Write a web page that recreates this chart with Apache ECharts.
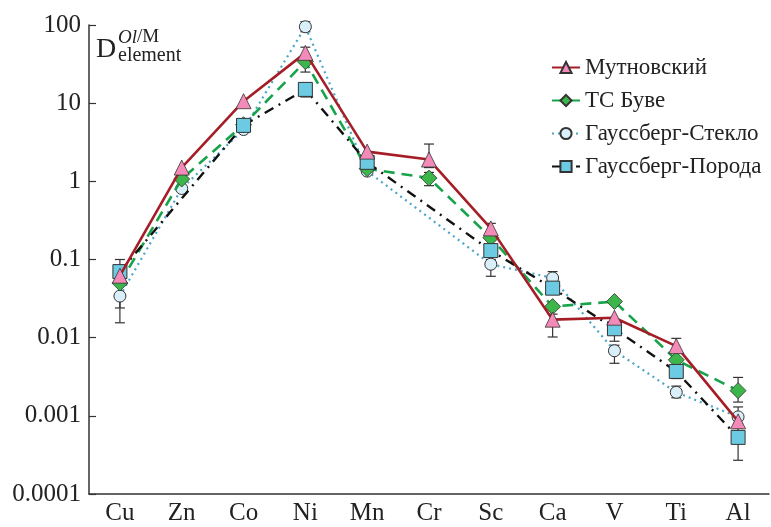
<!DOCTYPE html>
<html>
<head>
<meta charset="utf-8">
<script src="https://cdn.jsdelivr.net/npm/echarts@6/dist/echarts.min.js"></script>
<style>
html,body{margin:0;padding:0;background:#fff;}
#chart{width:771px;height:527px;}
</style>
</head>
<body>
<div id="chart"></div>
<script>
// ---- data ----
const categories = ['Cu','Zn','Co','Ni','Mn','Cr','Sc','Ca','V','Ti','Al'];
const seriesNames = ['Мутновский','ТС Буве','Гауссберг-Стекло','Гауссберг-Порода'];
const mutnovsky = [0.062, 1.5, 10.6, 44, 2.4, 1.9, 0.25, 0.017, 0.018, 0.0078, 0.00085];
const tsBouvet  = [0.050, 1.07, 5.3, 34, 1.45, 1.1, 0.19, 0.025, 0.029, 0.0052, 0.0021];
const gaussGlass = [0.034, 0.81, 4.6, 95, 1.35, null, 0.087, 0.058, 0.0068, 0.0020, 0.00097];
const gaussRock  = [0.070, null, 5.2, 15, 1.75, null, 0.13, 0.043, 0.013, 0.0037, 0.00053];
// error bars: [categoryIndex, low, high]
const errMutnovsky = [[3, 36, 52], [5, 1.5, 3.0], [6, 0.21, 0.29], [7, 0.0102, 0.02], [9, 0.0065, 0.0098], [10, 0.0007, 0.001]];
const errBouvet = [[0, 0.024, 0.07], [3, 25, 40], [5, 0.88, 1.3], [10, 0.0015, 0.0031]];
const errGlass = [[0, 0.0155, 0.05], [3, 82, 110], [6, 0.061, 0.1], [7, 0.05, 0.07], [8, 0.0047, 0.008], [9, 0.0017, 0.0024], [10, 0.0008, 0.0013]];
const errRock = [[0, 0.05, 0.1], [3, 12, 18], [8, 0.009, 0.015], [9, 0.003, 0.0045], [10, 0.00027, 0.0007]];
const yTickLabels = ['0.0001','0.001','0.01','0.1','1','10','100'];

const serif = '"Liberation Serif","DejaVu Serif",serif';

function errSeries(data) {
  return {
    type: 'custom',
    data: data,
    z: 1,
    silent: true,
    renderItem: function (params, api) {
      const x = api.value(0);
      const lo = api.coord([x, api.value(1)]);
      const hi = api.coord([x, api.value(2)]);
      const w = 5;
      const st = { stroke: '#333', lineWidth: 1.2 };
      return {
        type: 'group',
        children: [
          { type: 'line', shape: { x1: lo[0], y1: lo[1], x2: hi[0], y2: hi[1] }, style: st },
          { type: 'line', shape: { x1: lo[0] - w, y1: lo[1], x2: lo[0] + w, y2: lo[1] }, style: st },
          { type: 'line', shape: { x1: hi[0] - w, y1: hi[1], x2: hi[0] + w, y2: hi[1] }, style: st }
        ]
      };
    }
  };
}

const chart = echarts.init(document.getElementById('chart'));
chart.setOption({
  animation: false,
  backgroundColor: '#fff',
  grid: { left: 89, right: 2, top: 25, bottom: 33 },
  legend: {
    data: seriesNames,
    orient: 'vertical',
    left: 546,
    top: 51,
    itemWidth: 28,
    itemHeight: 14,
    itemGap: 10,
    textStyle: { fontFamily: serif, fontSize: 23, color: '#222' }
  },
  xAxis: {
    type: 'category',
    data: categories,
    axisLine: { lineStyle: { color: '#333', width: 1.5 } },
    axisTick: { inside: true, length: 8, lineStyle: { color: '#333', width: 1.2 } },
    axisLabel: { fontFamily: serif, fontSize: 25, color: '#222', margin: 7 },
    splitLine: { show: false }
  },
  yAxis: {
    type: 'log',
    logBase: 10,
    min: 0.0001,
    max: 100,
    splitNumber: 6,
    axisLine: { show: true, lineStyle: { color: '#333', width: 1.5 } },
    axisTick: { show: true, inside: true, length: 7, lineStyle: { color: '#333', width: 1.2 } },
    axisLabel: {
      fontFamily: serif, fontSize: 25, color: '#222', margin: 8,
      formatter: function (v) {
        const e = Math.round(Math.log10(v));
        return yTickLabels[e + 4] || '';
      }
    },
    splitLine: { show: false },
    minorTick: { show: false }
  },
  graphic: [
    { type: 'text', left: 96, top: 36, style: { text: 'D', fontFamily: serif, fontSize: 28, fill: '#222' } },
    { type: 'text', left: 118, top: 28, style: { text: '{i|Ol}/M', fontFamily: serif, fontSize: 19, fill: '#222',
        rich: { i: { fontFamily: serif, fontStyle: 'italic', fontSize: 19, fill: '#222' } } } },
    { type: 'text', left: 118, top: 46, style: { text: 'element', fontFamily: serif, fontSize: 20, fill: '#222' } }
  ],
  series: [
    errSeries(errGlass), errSeries(errBouvet), errSeries(errRock), errSeries(errMutnovsky),
    {
      name: seriesNames[2], type: 'line', data: gaussGlass, connectNulls: true, z: 2,
      symbol: 'circle', symbolSize: 12,
      lineStyle: { color: '#4aa6c8', width: 2.2, type: [2, 4] },
      itemStyle: { color: '#d9f0fa', borderColor: '#333', borderWidth: 1 }
    },
    {
      name: seriesNames[1], type: 'line', data: tsBouvet, connectNulls: true, z: 3,
      symbol: 'diamond', symbolSize: 16,
      lineStyle: { color: '#17a34a', width: 2.6, type: [11, 7] },
      itemStyle: { color: '#3cb54a', borderColor: '#333', borderWidth: 0.8 }
    },
    {
      name: seriesNames[3], type: 'line', data: gaussRock, connectNulls: true, z: 4,
      symbol: 'rect', symbolSize: 14,
      lineStyle: { color: '#111', width: 2.4, type: [10, 6, 2, 6] },
      itemStyle: { color: '#6ccbe3', borderColor: '#333', borderWidth: 1 }
    },
    {
      name: seriesNames[0], type: 'line', data: mutnovsky, connectNulls: true, z: 5,
      symbol: 'triangle', symbolSize: 15,
      lineStyle: { color: '#a51d26', width: 2.6 },
      itemStyle: { color: '#f48ab8', borderColor: '#333', borderWidth: 0.8 }
    }
  ]
});
</script>
</body>
</html>
